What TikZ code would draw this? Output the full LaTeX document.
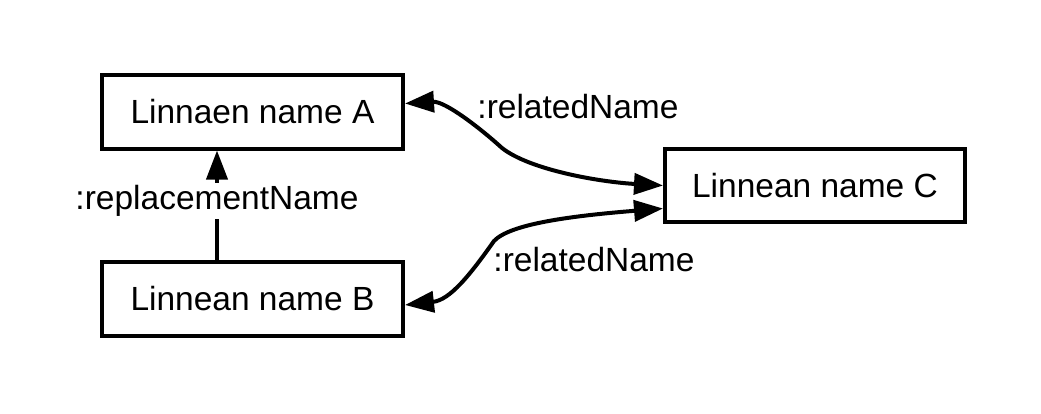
\documentclass[tikz,border=0pt]{standalone}
\usepackage{fontspec}
\setmainfont{Liberation Sans}
\usetikzlibrary{arrows.meta}
\begin{document}
\begin{tikzpicture}[x=1pt,y=-1pt,
  box/.style={draw, line width=4pt, minimum width=301pt, minimum height=74pt, inner sep=0pt, font=\fontsize{33.5}{40}\selectfont},
  lbl/.style={font=\fontsize{33.5}{40}\selectfont, inner sep=2pt},
  conn/.style={line width=4pt, {Triangle[length=29pt,width=21pt]}-{Triangle[length=29pt,width=21pt]}},
  conn1/.style={line width=4pt, -{Triangle[length=29pt,width=21pt]}}]
\useasboundingbox (0,0) rectangle (1041,413);
\node[box] (A) at (252.5,111.5) {Linnaen name A};
\node[box] (B) at (252.5,299) {Linnean name B};
\node[box, minimum width=300pt, minimum height=73pt] (C) at (815,185.5) {Linnean name C};
\coordinate (k1) at (502,148);
\coordinate (k2) at (494,241);
\draw[conn] ([yshift=8pt]A.east) .. controls (445,101) and (480,128) .. (k1) .. controls (530,170) and (600,182) .. (C.west);
\draw[conn] ([yshift=-23pt]C.west) .. controls (570,216) and (510,224) .. (k2) .. controls (470,275) and (450,300) .. ([yshift=-6pt]B.east);
\draw[conn1] (B.north -| 217,0) -- (A.south -| 217,0);
\node[lbl, fill=white] (r) at (217,201) {:replacementName};
\node[lbl] (l1) at (578,107) {:relatedName};
\node[lbl] (l2) at (594,260) {:relatedName};
\end{tikzpicture}
\end{document}
